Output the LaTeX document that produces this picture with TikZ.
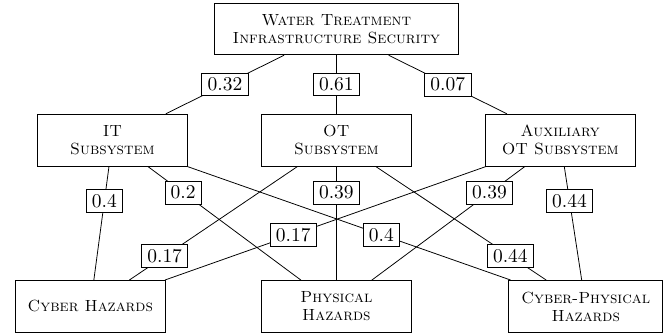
\documentclass[tikz,border=0pt]{standalone}
\usepackage{amsmath, tikz}
\tikzset{
sysbox/.style={draw, align=center, font=\fontsize{8.3}{9.2}\selectfont\scshape, minimum width=2.72cm, minimum height=0.94cm, inner sep=2pt},
weight/.style={draw, fill=white, inner xsep=3pt, inner ysep=2.4pt}
}
\begin{document}
\begin{tikzpicture}
  \useasboundingbox (-6.07,0.53) rectangle (5.93,-5.47);
  \node[sysbox, minimum width=4.41cm, minimum height=0.92cm] (wtis) at (0,0) {Water Treatment\\Infrastructure Security};
  \node[sysbox] (it) at (-4.04,-2) {IT\\Subsystem};
  \node[sysbox] (ot) at (0,-2) {OT\\Subsystem};
  \node[sysbox] (aux) at (4.04,-2) {Auxiliary\\OT Subsystem};
  \node[sysbox] (cyber) at (-4.44,-5) {Cyber Hazards};
  \node[sysbox] (phys) at (0,-5) {Physical\\Hazards};
  \node[sysbox, minimum width=2.78cm] (cps) at (4.5,-5) {Cyber-Physical\\Hazards};
  \draw (wtis) -- node[weight] {0.32} (it);
  \draw (wtis) -- node[weight] {0.61} (ot);
  \draw (wtis) -- node[weight] {0.07} (aux);
  \draw (it) -- node[weight, pos=0.3] {0.4} (cyber);
  \draw (it) -- node[weight, pos=0.23] {0.2} (phys);
  \draw (it) -- node[weight, pos=0.6] {0.4} (cps);
  \draw (ot) -- node[weight, pos=0.79] {0.17} (cyber);
  \draw (ot) -- node[weight, pos=0.23] {0.39} (phys);
  \draw (ot) -- node[weight, pos=0.79] {0.44} (cps);
  \draw (aux) -- node[weight, pos=0.6] {0.17} (cyber);
  \draw (aux) -- node[weight, pos=0.23] {0.39} (phys);
  \draw (aux) -- node[weight, pos=0.3] {0.44} (cps);
\end{tikzpicture}
\end{document}
